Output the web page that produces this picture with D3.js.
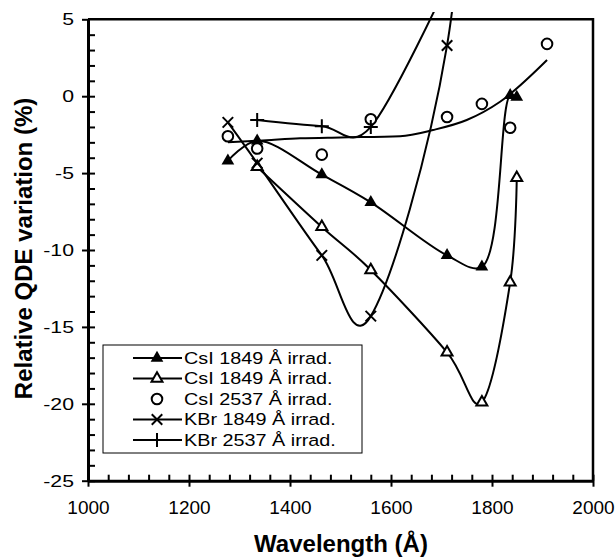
<!DOCTYPE html>
<html>
<head>
<meta charset="utf-8">
<script src="https://cdn.jsdelivr.net/npm/d3@7/dist/d3.min.js"></script>
<style>
  html, body { margin: 0; padding: 0; background: #fff; }
  svg { display: block; }
  text { font-family: "Liberation Sans", Arial, Helvetica, sans-serif; fill: #000; }
</style>
</head>
<body>
<svg id="chart" width="616" height="557"></svg>
<script>
'use strict';

// values (wavelength in Å, QDE variation in %)
const csi1849aWl  = [1277, 1335, 1463, 1560, 1711, 1780, 1836, 1849];
const csi1849aVal = [-4.2, -2.9, -5.1, -6.9, -10.35, -11.1, 0.05, -0.05];

const csi1849bWl  = [1335, 1463, 1560, 1711, 1780, 1836, 1849];
const csi1849bVal = [-4.6, -8.5, -11.3, -16.65, -19.9, -12.1, -5.3];

const csi2537Wl  = [1277, 1335, 1463, 1560, 1711, 1780, 1836, 1909];
const csi2537Val = [-2.6, -3.4, -3.8, -1.5, -1.35, -0.5, -2.05, 3.4];

// trend curve through the CsI 2537 points, as drawn
const csi2537TrendWl  = [1277, 1354, 1420, 1500, 1618, 1683, 1750, 1816, 1909];
const csi2537TrendVal = [-3.0, -2.86, -2.74, -2.68, -2.6, -2.2, -1.55, -0.36, 2.35];

const kbr1849Wl  = [1277, 1335, 1463, 1560, 1711, 1780];
const kbr1849Val = [-1.7, -4.35, -10.35, -14.3, 3.3, 29];

const kbr2537Wl  = [1335, 1463, 1560, 1711];
const kbr2537Val = [-1.55, -1.95, -2.0, 7.3];

const legendLabels = [
    'CsI 1849 Å irrad.',
    'CsI 1849 Å irrad.',
    'CsI 2537 Å irrad.',
    'KBr 1849 Å irrad.',
    'KBr 2537 Å irrad.'
];

const xTicks = [1000, 1200, 1400, 1600, 1800, 2000];
const yTicks = [-25, -20, -15, -10, -5, 0, 5];

const svg = d3.select('#chart');

const x = d3.scaleLinear().domain([1000, 2000]).range([88, 593]);
const y = d3.scaleLinear().domain([-25, 5]).range([480.7, 19.3]);

// custom marker shapes
const symX = { draw(ctx, size) { const r = Math.sqrt(size) / 2; ctx.moveTo(-r, -r); ctx.lineTo(r, r); ctx.moveTo(r, -r); ctx.lineTo(-r, r); } };
const symPlus = { draw(ctx, size) { const r = Math.sqrt(size) / 2; ctx.moveTo(-r, 0); ctx.lineTo(r, 0); ctx.moveTo(0, -r); ctx.lineTo(0, r); } };

const smooth = d3.curveCardinal.tension(0);
// the two nearly coincident end points would loop with a uniform spline
const smoothTight = d3.curveCatmullRom.alpha(0.5);

const series = [
    { wl: csi1849aWl, val: csi1849aVal, curve: smoothTight, type: d3.symbolTriangle, size: 70,  fill: '#000', stroke: 'none' },
    { wl: csi1849bWl, val: csi1849bVal, curve: smooth,      type: d3.symbolTriangle, size: 52,  fill: '#fff', stroke: '#000' },
    { wl: csi2537Wl,  val: csi2537Val,  curve: null,        type: d3.symbolCircle,   size: 88,  fill: '#fff', stroke: '#000' },
    { wl: kbr1849Wl,  val: kbr1849Val,  curve: smooth,      type: symX,              size: 110, fill: 'none', stroke: '#000' },
    { wl: kbr2537Wl,  val: kbr2537Val,  curve: smooth,      type: symPlus,           size: 196, fill: 'none', stroke: '#000' }
];

svg.append('defs').append('clipPath').attr('id', 'plot-clip')
    .append('rect').attr('x', 88).attr('y', 12).attr('width', 505).attr('height', 469);

// frame top / right
svg.append('path')
    .attr('d', `M${x(1000)},${y(5)}H${x(2000)}V${y(-25)}`)
    .attr('fill', 'none').attr('stroke', '#000').attr('stroke-width', 2.5);

// minor ticks (inward)
const xMinor = d3.range(1040, 2000, 40).filter(v => v % 200 !== 0);
const yMinor = d3.range(-24, 5, 1).filter(v => v % 5 !== 0);

svg.append('g').attr('transform', `translate(0,${y(-25)})`)
    .call(d3.axisBottom(x).tickValues(xMinor).tickSize(-6).tickFormat(''))
    .call(g => g.select('.domain').remove())
    .selectAll('line').attr('stroke-width', 2);

svg.append('g').attr('transform', `translate(${x(1000)},0)`)
    .call(d3.axisLeft(y).tickValues(yMinor).tickSize(-7).tickFormat(''))
    .call(g => g.select('.domain').remove())
    .selectAll('line').attr('stroke-width', 2);

// major axes (plain hyphen for negatives, as in the reference)
const xAxis = svg.append('g').attr('transform', `translate(0,${y(-25)})`)
    .call(d3.axisBottom(x).tickValues(xTicks).tickSize(6).tickPadding(14).tickSizeOuter(0).tickFormat(d => String(d)));
xAxis.select('.domain').attr('stroke-width', 3);
xAxis.selectAll('line').attr('y1', -6).attr('stroke-width', 2);
xAxis.selectAll('text').style('font-size', '19px');

const yAxis = svg.append('g').attr('transform', `translate(${x(1000)},0)`)
    .call(d3.axisLeft(y).tickValues(yTicks).tickSize(6).tickSizeOuter(0).tickFormat(d => String(d)));
yAxis.select('.domain').attr('stroke-width', 3);
yAxis.selectAll('line').attr('x1', d => d === 5 ? 0 : 7).attr('stroke-width', 2);
yAxis.selectAll('text')
    .attr('x', 0)
    .attr('transform', 'translate(-14,0) scale(1.25,1)')
    .style('font-size', '17px');
svg.selectAll('.tick text').attr('fill', '#000');

// axis titles
svg.append('text')
    .attr('x', 341).attr('y', 552)
    .attr('text-anchor', 'middle')
    .style('font-size', '24px').style('font-weight', 'bold')
    .text('Wavelength (Å)');

svg.append('text')
    .attr('transform', 'translate(31.5,248.5) rotate(-90)')
    .attr('text-anchor', 'middle')
    .style('font-size', '24px').style('font-weight', 'bold')
    .text('Relative QDE variation (%)');

// curves
const plot = svg.append('g').attr('clip-path', 'url(#plot-clip)');

const zip = (a, b) => a.map((v, i) => [v, b[i]]);

plot.append('path')
    .datum(zip(csi2537TrendWl, csi2537TrendVal))
    .attr('d', d3.line().x(d => x(d[0])).y(d => y(d[1])).curve(d3.curveMonotoneX))
    .attr('fill', 'none').attr('stroke', '#000').attr('stroke-width', 2);

series.filter(s => s.curve).forEach(s => {
    plot.append('path')
        .datum(zip(s.wl, s.val))
        .attr('d', d3.line().x(d => x(d[0])).y(d => y(d[1])).curve(s.curve))
        .attr('fill', 'none').attr('stroke', '#000').attr('stroke-width', 2);
});

series.forEach(s => {
    plot.append('g').selectAll('path')
        .data(zip(s.wl, s.val))
        .join('path')
        .attr('transform', d => `translate(${x(d[0])},${y(d[1])})`)
        .attr('d', d3.symbol().type(s.type).size(s.size))
        .attr('fill', s.fill)
        .attr('stroke', s.stroke)
        .attr('stroke-width', 2);
});

// legend
const legend = svg.append('g').attr('transform', 'translate(103,345)');
legend.append('rect')
    .attr('width', 259).attr('height', 108)
    .attr('fill', '#fff').attr('stroke', '#000').attr('stroke-width', 1);

const rowY = d3.scalePoint().domain(d3.range(legendLabels.length)).range([13, 95]);

legendLabels.forEach((label, i) => {
    const s = series[i];
    const row = legend.append('g').attr('transform', `translate(0,${rowY(i)})`);
    if (s.curve) {
        row.append('line').attr('x1', 30).attr('x2', 79)
            .attr('stroke', '#000').attr('stroke-width', 2);
    }
    row.append('path')
        .attr('transform', 'translate(54,0)')
        .attr('d', d3.symbol().type(s.type).size(s.size))
        .attr('fill', s.fill).attr('stroke', s.stroke).attr('stroke-width', 2);
    row.append('text')
        .attr('x', 0).attr('dy', '0.36em')
        .attr('transform', 'translate(81,0) scale(1.2,1)')
        .style('font-size', '16.5px')
        .text(label);
});
</script>
</body>
</html>
